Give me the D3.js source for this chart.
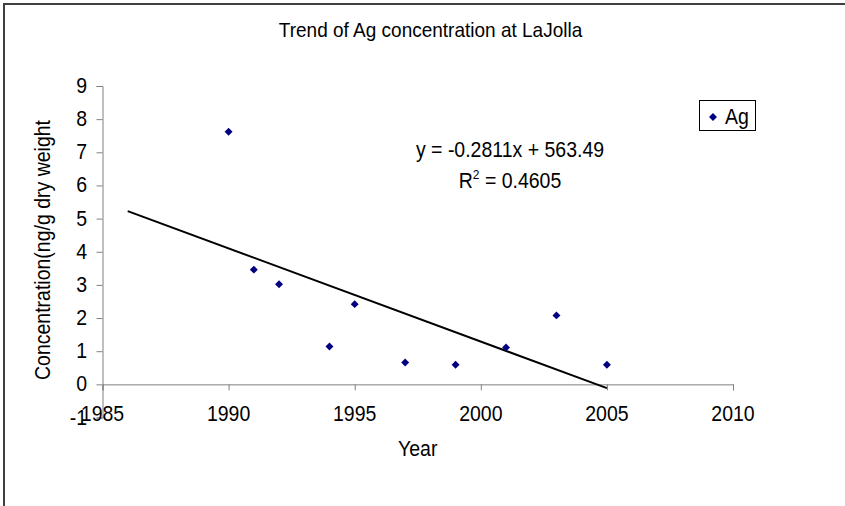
<!DOCTYPE html>
<html><head><meta charset="utf-8">
<script src="https://cdn.jsdelivr.net/npm/d3@7"></script>
<style>
html,body{margin:0;padding:0;background:#fff;}
svg{display:block;font-family:"Liberation Sans",Arial,sans-serif;}
</style></head>
<body>
<script>
const years = [1990, 1991, 1992, 1994, 1995, 1997, 1999, 2001, 2003, 2005];
const agValues = [7.62, 3.46, 3.02, 1.14, 2.42, 0.66, 0.59, 1.11, 2.08, 0.59];
const xTicks = [1985, 1990, 1995, 2000, 2005, 2010];
const yTicks = [-1, 0, 1, 2, 3, 4, 5, 6, 7, 8, 9];
const slope = -0.2811, intercept = 563.49;
const trendRange = [1986, 2005];
const titleText = "Trend of Ag concentration at LaJolla";
const xLabel = "Year";
const yLabel = "Concentration(ng/g dry weight";
const seriesName = "Ag";
const eqText = "y = -0.2811x + 563.49";
const r2Value = "0.4605";

const W = 845, H = 506;
const svg = d3.select("body").append("svg").attr("width", W).attr("height", H);
const SY = 1.1;   // slight vertical stretch of the reference's glyphs

function label(parent, px, py, str, size, anchor, rot) {
  const g = parent.append("g")
    .attr("transform", `translate(${px},${py})` + (rot ? ` rotate(${rot})` : "") + ` scale(1,${SY})`);
  return g.append("text").attr("x", 0).attr("y", 0)
    .attr("text-anchor", anchor || "start").attr("font-size", size).attr("fill", "#000").text(str);
}

// outer frame (right/bottom edges off-canvas)
svg.append("rect").attr("x", 4).attr("y", 4).attr("width", 900).attr("height", 600)
  .attr("fill", "none").attr("stroke", "#404040").attr("stroke-width", 2);

const x = d3.scaleLinear().domain([1985, 2010]).range([102.5, 733]);
const y = d3.scaleLinear().domain([-1, 9]).range([417.5, 86]);
const fs = 19.5;

// title
label(svg, 430.5, 37, titleText, 19, "middle");

// y axis
const yAxis = svg.append("g").attr("transform", `translate(${x(1985)},0)`)
  .call(d3.axisLeft(y).tickValues(yTicks).tickSize(6).tickFormat(""));
yAxis.select(".domain").attr("stroke", "#808080");
yAxis.selectAll(".tick line").attr("stroke", "#808080");
yAxis.selectAll(".tick text").remove();
yTicks.forEach(t => label(svg, 87, y(t) + 7, String(t), fs, "end"));

// x axis at y=0
const xAxis = svg.append("g").attr("transform", `translate(0,${y(0)})`)
  .call(d3.axisBottom(x).tickValues(xTicks).tickSize(6).tickFormat(""));
xAxis.select(".domain").attr("stroke", "#808080");
xAxis.selectAll(".tick line").attr("stroke", "#808080");
xAxis.selectAll(".tick text").remove();
xTicks.forEach(t => label(svg, x(t), 421, String(t), fs, "middle"));

// axis titles
label(svg, x(1997.5), 456, xLabel, fs, "middle");
label(svg, 50, (117 + 383) / 2, yLabel, fs, "middle", -90);

// trendline
const trend = trendRange.map(t => [t, slope * t + intercept]);
svg.append("path").datum(trend)
  .attr("d", d3.line().x(d => x(d[0])).y(d => y(d[1])))
  .attr("stroke", "#000").attr("stroke-width", 2).attr("fill", "none");

// points
const diamond = d3.symbol().type(d3.symbolDiamond2).size(40);
svg.append("g").selectAll("path").data(years.map((yr, i) => [yr, agValues[i]]))
  .join("path").attr("d", diamond)
  .attr("transform", d => `translate(${x(d[0])},${y(d[1])})`)
  .attr("fill", "#000080");

// equation
label(svg, 510, 157, eqText, fs, "middle");
const r2 = label(svg, 510, 188, "", fs, "middle");
r2.append("tspan").text("R");
r2.append("tspan").attr("dy", -8).attr("font-size", 12).text("2");
r2.append("tspan").attr("dy", 8).text(" = " + r2Value);

// legend
svg.append("rect").attr("x", 699.5).attr("y", 100.5).attr("width", 56).attr("height", 30)
  .attr("fill", "#fff").attr("stroke", "#000").attr("stroke-width", 1);
svg.append("path").attr("d", diamond).attr("transform", "translate(713,117)").attr("fill", "#000080");
label(svg, 725, 124, seriesName, fs, "start");
</script>
</body></html>
